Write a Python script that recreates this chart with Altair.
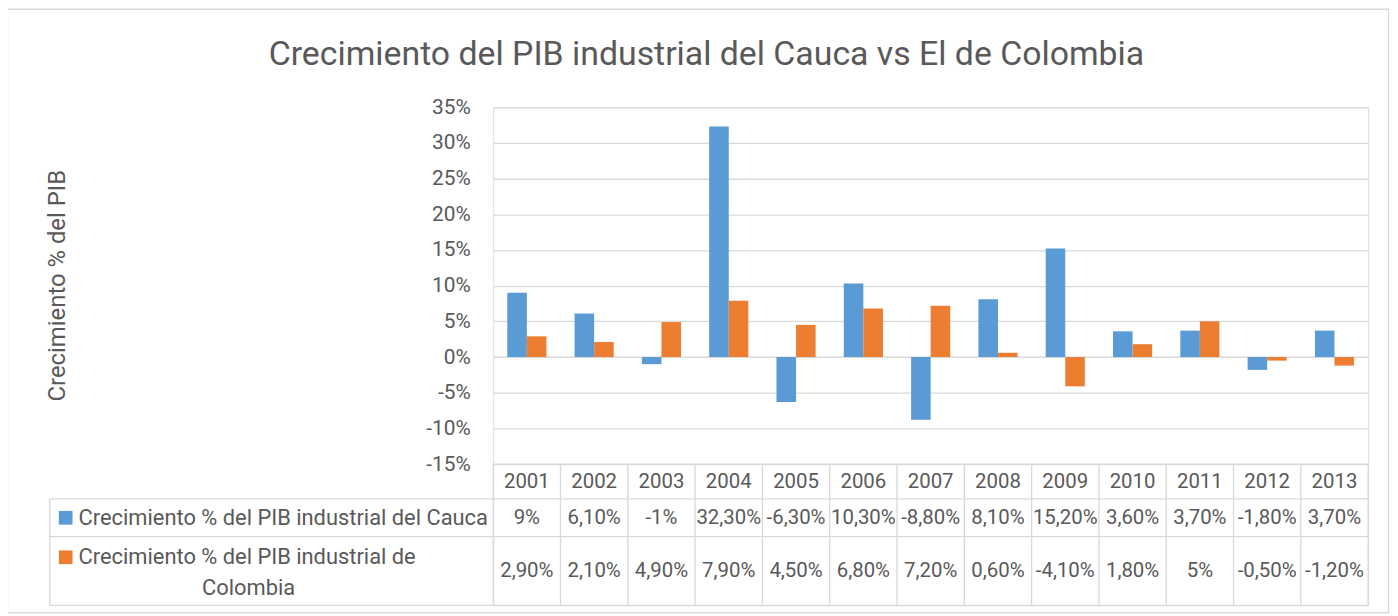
import altair as alt
import pandas as pd

# ---------------- data ----------------
years = ["2001", "2002", "2003", "2004", "2005", "2006", "2007",
         "2008", "2009", "2010", "2011", "2012", "2013"]
cauca = [9.0, 6.1, -1.0, 32.3, -6.3, 10.3, -8.8, 8.1, 15.2, 3.6, 3.7, -1.8, 3.7]
colombia = [2.9, 2.1, 4.9, 7.9, 4.5, 6.8, 7.2, 0.6, -4.1, 1.8, 5.0, -0.5, -1.2]
series = ["Crecimiento % del PIB industrial del Cauca",
          "Crecimiento % del PIB industrial de Colombia"]
colors = ["#5B9BD5", "#ED7D31"]
y_ticks = [-15, -10, -5, 0, 5, 10, 15, 20, 25, 30, 35]
title_text = "Crecimiento del PIB industrial del Cauca vs El de Colombia"
y_title = "Crecimiento % del PIB"

# ---------------- layout / style ----------------
FONT = "Roboto"
TXT = "#595959"
GRID = "#d9d9d9"
W, H = 880, 501
PLOT_H = 359
ROW_EDGES = [359, 394, 432, 501]   # table row boundaries (px from plot top)
LEG_LEFT = -446                     # left border of the legend column


def fmt(v):
    if abs(v - round(v)) < 1e-9:
        return f"{int(round(v))}%"
    return f"{v:.2f}%".replace(".", ",")


rows = []
for i, yr in enumerate(years):
    rows.append({"year": yr, "series": series[0], "value": cauca[i],
                 "label": fmt(cauca[i]), "row": 1.5})
    rows.append({"year": yr, "series": series[1], "value": colombia[i],
                 "label": fmt(colombia[i]), "row": 2.5})
df = pd.DataFrame(rows)

df_years = pd.DataFrame({"year": years, "row": [0.52] * len(years)})
df_vlines = pd.DataFrame({"year": years, "y0": [0] * len(years), "y1": [3] * len(years)})
df_vend = pd.DataFrame({"year": [years[-1]], "y0": [0], "y1": [3]})
df_top = pd.DataFrame({"edge": [0]})
df_hl = pd.DataFrame({"edge": [1, 2, 3]})
df_legl = pd.DataFrame({"y0": [1], "y1": [3]})

line1, line2 = series[1].rsplit(" ", 1)
df_leg_sq = pd.DataFrame({"series": series, "row": [1.5, 2.30]})
df_leg_left = pd.DataFrame({"text": [series[0], line1], "row": [1.5, 2.30]})
df_leg_center = pd.DataFrame({"text": [line2], "row": [2.75]})
df_one = pd.DataFrame({"t": [title_text]})

x_scale = alt.Scale(domain=years, paddingInner=0, paddingOuter=0)
xenc = alt.X("year:O", scale=x_scale, axis=None)
tscale = alt.Scale(domain=[0, 1, 2, 3], range=ROW_EDGES, nice=False, zero=False)
color = alt.Color("series:N", scale=alt.Scale(domain=series, range=colors), legend=None)

bars = alt.Chart(df).mark_bar().encode(
    x=xenc,
    xOffset=alt.XOffset("series:N",
                        scale=alt.Scale(domain=series, paddingInner=0, paddingOuter=0.72)),
    y=alt.Y("value:Q",
            scale=alt.Scale(domain=[-15, 35], range=[PLOT_H, 0], nice=False),
            axis=alt.Axis(values=y_ticks, labelExpr="datum.value + '%'",
                          grid=True, gridColor=GRID, gridWidth=1.3,
                          domain=False, ticks=False, tickSize=0, labelPadding=23,
                          labelFont=FONT, labelFontSize=21, labelColor=TXT,
                          title=y_title, titleFont=FONT, titleFontSize=24,
                          titleFontWeight="normal", titleColor=TXT,
                          titleX=-438, titleY=179, titleAngle=-90,
                          titleAlign="center", titleBaseline="middle")),
    color=color,
)

values_text = alt.Chart(df).mark_text(font=FONT, fontSize=20.5, color=TXT, baseline="middle").encode(
    x=xenc, y=alt.Y("row:Q", scale=tscale, axis=None), text="label:N")

years_text = alt.Chart(df_years).mark_text(font=FONT, fontSize=20.5, color=TXT, baseline="middle").encode(
    x=xenc, y=alt.Y("row:Q", scale=tscale, axis=None), text="year:N")

vlines = alt.Chart(df_vlines).mark_rule(color=GRID, strokeWidth=1.3).encode(
    x=alt.X("year:O", scale=x_scale, axis=None, bandPosition=0),
    y=alt.Y("y0:Q", scale=tscale, axis=None), y2="y1:Q")

vend = alt.Chart(df_vend).mark_rule(color=GRID, strokeWidth=1.3).encode(
    x=alt.X("year:O", scale=x_scale, axis=None, bandPosition=1),
    y=alt.Y("y0:Q", scale=tscale, axis=None), y2="y1:Q")

htop = alt.Chart(df_top).mark_rule(color=GRID, strokeWidth=1.3).encode(
    x=alt.value(0), x2=alt.value(W), y=alt.Y("edge:Q", scale=tscale, axis=None))

hlines = alt.Chart(df_hl).mark_rule(color=GRID, strokeWidth=1.3).encode(
    x=alt.value(LEG_LEFT), x2=alt.value(W), y=alt.Y("edge:Q", scale=tscale, axis=None))

legl = alt.Chart(df_legl).mark_rule(color=GRID, strokeWidth=1.3).encode(
    x=alt.value(LEG_LEFT), y=alt.Y("y0:Q", scale=tscale, axis=None), y2="y1:Q")

leg_sq = alt.Chart(df_leg_sq).mark_square(size=190, opacity=1, filled=True).encode(
    x=alt.value(-430), y=alt.Y("row:Q", scale=tscale, axis=None), color=color)

leg_left = alt.Chart(df_leg_left).mark_text(font=FONT, fontSize=22, color=TXT,
                                            align="left", baseline="middle").encode(
    x=alt.value(-417), y=alt.Y("row:Q", scale=tscale, axis=None), text="text:N")

leg_center = alt.Chart(df_leg_center).mark_text(font=FONT, fontSize=22, color=TXT,
                                                align="center", baseline="middle").encode(
    x=alt.value(-246), y=alt.Y("row:Q", scale=tscale, axis=None), text="text:N")

title = alt.Chart(df_one).mark_text(font=FONT, fontSize=34, color=TXT,
                                    align="center", baseline="middle").encode(
    x=alt.value(214.5), y=alt.value(-52), text="t:N")

border = alt.Chart(df_one).mark_rect(fillOpacity=0, stroke=GRID, strokeWidth=1.3).encode(
    x=alt.value(-488.5), x2=alt.value(900.5), y=alt.value(-98.5), y2=alt.value(508.5))

chart = alt.layer(
    border, bars, htop, hlines, vlines, vend, legl,
    values_text, years_text, leg_sq, leg_left, leg_center, title,
).resolve_scale(y="independent").properties(
    width=W, height=H,
    padding={"left": 488, "top": 98, "right": 22, "bottom": 9},
    autosize=alt.AutoSizeParams(type="none"),
).configure_view(strokeWidth=0).configure(background="white")

chart.save("out.html", embed_options={"renderer": "svg", "actions": False})
